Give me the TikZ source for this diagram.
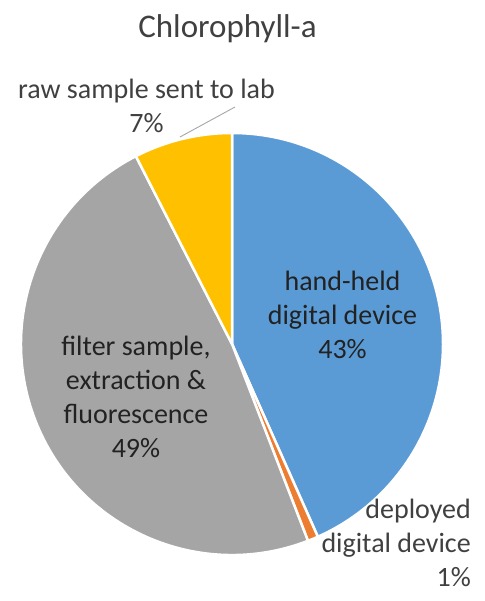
\documentclass[tikz,border=0pt]{standalone}
\usepackage{fontspec}
\setmainfont{Carlito}
\definecolor{pblue}{HTML}{5B9BD5}
\definecolor{porange}{HTML}{ED7D31}
\definecolor{pgray}{HTML}{A5A5A5}
\definecolor{pyellow}{HTML}{FFC000}
\definecolor{txtout}{HTML}{404040}
\definecolor{txtin}{HTML}{222222}
\definecolor{leadc}{HTML}{A6A6A6}
\begin{document}
\begin{tikzpicture}[x=1pt,y=-1pt,
  slice/.style={draw=white, line width=2.5pt, line join=round},
  lbl/.style={font=\fontsize{28}{34}\selectfont, text=txtin, align=center, inner sep=0pt, anchor=base},
  outlbl/.style={lbl, text=txtout}]
\useasboundingbox[fill=white] (0,0) rectangle (484,601);
\coordinate (c) at (232,344);
\filldraw[slice, fill=pblue] (c) -- ++(-90:211) arc[start angle=-90, end angle=66, radius=211] -- cycle;
\filldraw[slice, fill=porange] (c) -- ++(66:211) arc[start angle=66, end angle=68.9, radius=211] -- cycle;
\filldraw[slice, fill=pgray] (c) -- ++(68.9:211) arc[start angle=68.9, end angle=242.9, radius=211] -- cycle;
\filldraw[slice, fill=pyellow] (c) -- ++(242.9:211) arc[start angle=242.9, end angle=270, radius=211] -- cycle;
\node[font=\fontsize{33}{40}\selectfont, text=txtout, inner sep=0pt, anchor=base] (title) at (227.5,38) {Chlorophyll-a};
\node[lbl] (hand) at (342.5,358) {hand-held\\digital device\\43\%};
\node[lbl] (filter) at (136,457) {filter sample,\\extraction \&\\fluorescence\\49\%};
\node[outlbl, align=right, anchor=base east] (deployed) at (471,586) {deployed\\digital device\\1\%};
\node[outlbl] (raw) at (146.5,133) {raw sample sent to lab\\7\%};
\coordinate (lead) at (180,137);
\coordinate (leadend) at (235,107);
\draw[leadc, line width=0.9pt] (lead) -- (leadend);
\end{tikzpicture}
\end{document}
